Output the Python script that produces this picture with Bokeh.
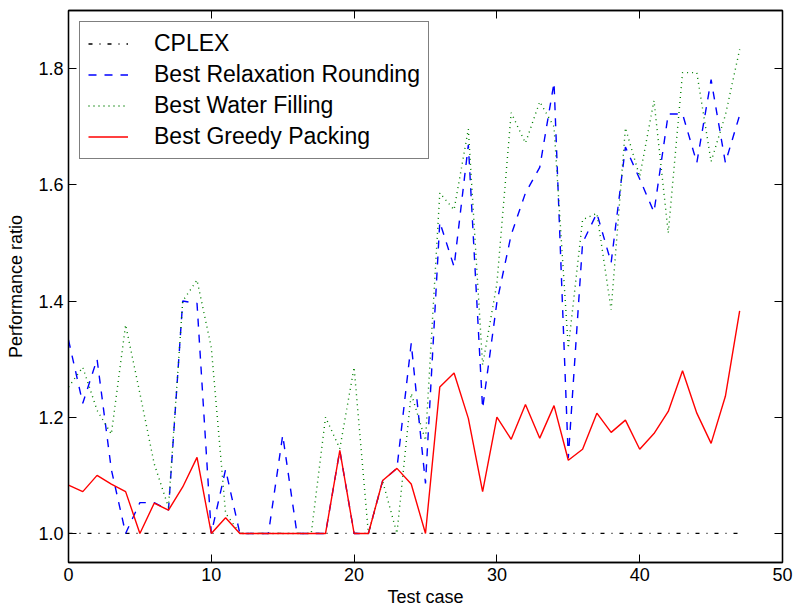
from bokeh.plotting import figure
from bokeh.models import LinearAxis, FixedTicker, Range1d
from bokeh.embed import file_html
from bokeh.resources import INLINE

# ---- data ----
test_case = list(range(48))
cplex = [1.0] * 48
relaxation = [1.333, 1.224, 1.30, 1.11, 1.0, 1.053, 1.053, 1.04, 1.40, 1.396,
              1.0, 1.11, 1.0, 1.0, 1.0, 1.169, 1.0, 1.0, 1.0, 1.143,
              1.0, 1.0, 1.091, 1.112, 1.327, 1.086, 1.536, 1.459, 1.669, 1.215,
              1.398, 1.514, 1.586, 1.63, 1.776, 1.13, 1.50, 1.551, 1.466, 1.665,
              1.61, 1.553, 1.722, 1.722, 1.638, 1.781, 1.638, 1.72]
water = [1.252, 1.286, 1.212, 1.171, 1.359, 1.241, 1.12, 1.045, 1.40, 1.436,
         1.32, 1.035, 1.0, 1.0, 1.0, 1.0, 1.0, 1.0, 1.2, 1.146,
         1.286, 1.0, 1.09, 1.0, 1.241, 1.16, 1.586, 1.557, 1.696, 1.29,
         1.43, 1.724, 1.672, 1.743, 1.70, 1.319, 1.54, 1.551, 1.385, 1.698,
         1.614, 1.745, 1.517, 1.793, 1.793, 1.64, 1.72, 1.833]
greedy = [1.083, 1.072, 1.10, 1.085, 1.072, 1.0, 1.052, 1.04, 1.08, 1.131,
          1.0, 1.027, 1.0, 1.0, 1.0, 1.0, 1.0, 1.0, 1.0, 1.143,
          1.0, 1.0, 1.091, 1.112, 1.085, 1.0, 1.252, 1.276, 1.198, 1.072,
          1.2, 1.162, 1.222, 1.164, 1.22, 1.126, 1.145, 1.207, 1.174, 1.195,
          1.145, 1.172, 1.21, 1.28, 1.207, 1.155, 1.236, 1.383]
series_names = ["CPLEX", "Best Relaxation Rounding", "Best Water Filling", "Best Greedy Packing"]
x_ticks = [0, 10, 20, 30, 40, 50]
y_ticks = [1.0, 1.2, 1.4, 1.6, 1.8]
y_tick_labels = ["1.0", "1.2", "1.4", "1.6", "1.8"]

FONT = "Liberation Sans"

p = figure(width=795, height=612, output_backend="svg", toolbar_location=None,
           x_range=Range1d(0, 50), y_range=Range1d(0.95, 1.9),
           min_border_left=68, min_border_top=10, min_border_right=13, min_border_bottom=50)
p.background_fill_color = "white"
p.border_fill_color = "white"
p.outline_line_color = "black"
p.outline_line_width = 1.3
p.grid.visible = False

p.line(test_case, cplex, color="black", line_width=1.3, line_dash="4 7 1 7", legend_label=series_names[0])
p.line(test_case, relaxation, color="#0000ff", line_width=1.4, line_dash="8 8", legend_label=series_names[1])
p.line(test_case, water, color="#008000", line_width=1.4, line_dash="1 4", legend_label=series_names[2])
p.line(test_case, greedy, color="#ff0000", line_width=1.4, legend_label=series_names[3])

def style_axis(ax, show_labels=True):
    ax.major_tick_in = 8
    ax.major_tick_out = 0
    ax.minor_tick_line_color = None
    ax.axis_line_color = "black"
    ax.axis_line_width = 1.3
    ax.major_tick_line_color = "black"
    ax.major_tick_line_width = 1.0
    ax.major_label_text_font = FONT
    ax.major_label_text_color = "black"
    ax.axis_label_text_font = FONT
    ax.axis_label_text_font_style = "normal"
    ax.axis_label_text_color = "black"
    if show_labels:
        ax.major_label_text_font_size = "18px"
        ax.axis_label_text_font_size = "18px"
    else:
        ax.major_label_text_font_size = "0px"
        ax.major_label_standoff = 0

xa = p.xaxis[0]
ya = p.yaxis[0]
xa.ticker = FixedTicker(ticks=x_ticks)
ya.ticker = FixedTicker(ticks=y_ticks)
ya.major_label_overrides = {t: l for t, l in zip(y_ticks, y_tick_labels)}
xa.axis_label = "Test case"
ya.axis_label = "Performance ratio"
style_axis(xa)
style_axis(ya)
xa.major_label_standoff = 5
xa.axis_label_standoff = 3
ya.major_label_standoff = 5
ya.axis_label_standoff = 9

top = LinearAxis(ticker=FixedTicker(ticks=x_ticks))
right = LinearAxis(ticker=FixedTicker(ticks=y_ticks))
style_axis(top, False)
style_axis(right, False)
p.add_layout(top, "above")
p.add_layout(right, "right")

lg = p.legend[0]
lg.location = "top_left"
lg.margin = 11
lg.padding = 8
lg.spacing = 4
lg.label_height = 23
lg.glyph_height = 23
lg.glyph_width = 40
lg.label_standoff = 26
lg.label_text_font = FONT
lg.label_text_font_size = "23px"
lg.label_text_color = "black"
lg.border_line_color = "black"
lg.border_line_width = 1.3
lg.background_fill_alpha = 1.0

html = file_html(p, INLINE)
open("out.html", "w").write(html)
